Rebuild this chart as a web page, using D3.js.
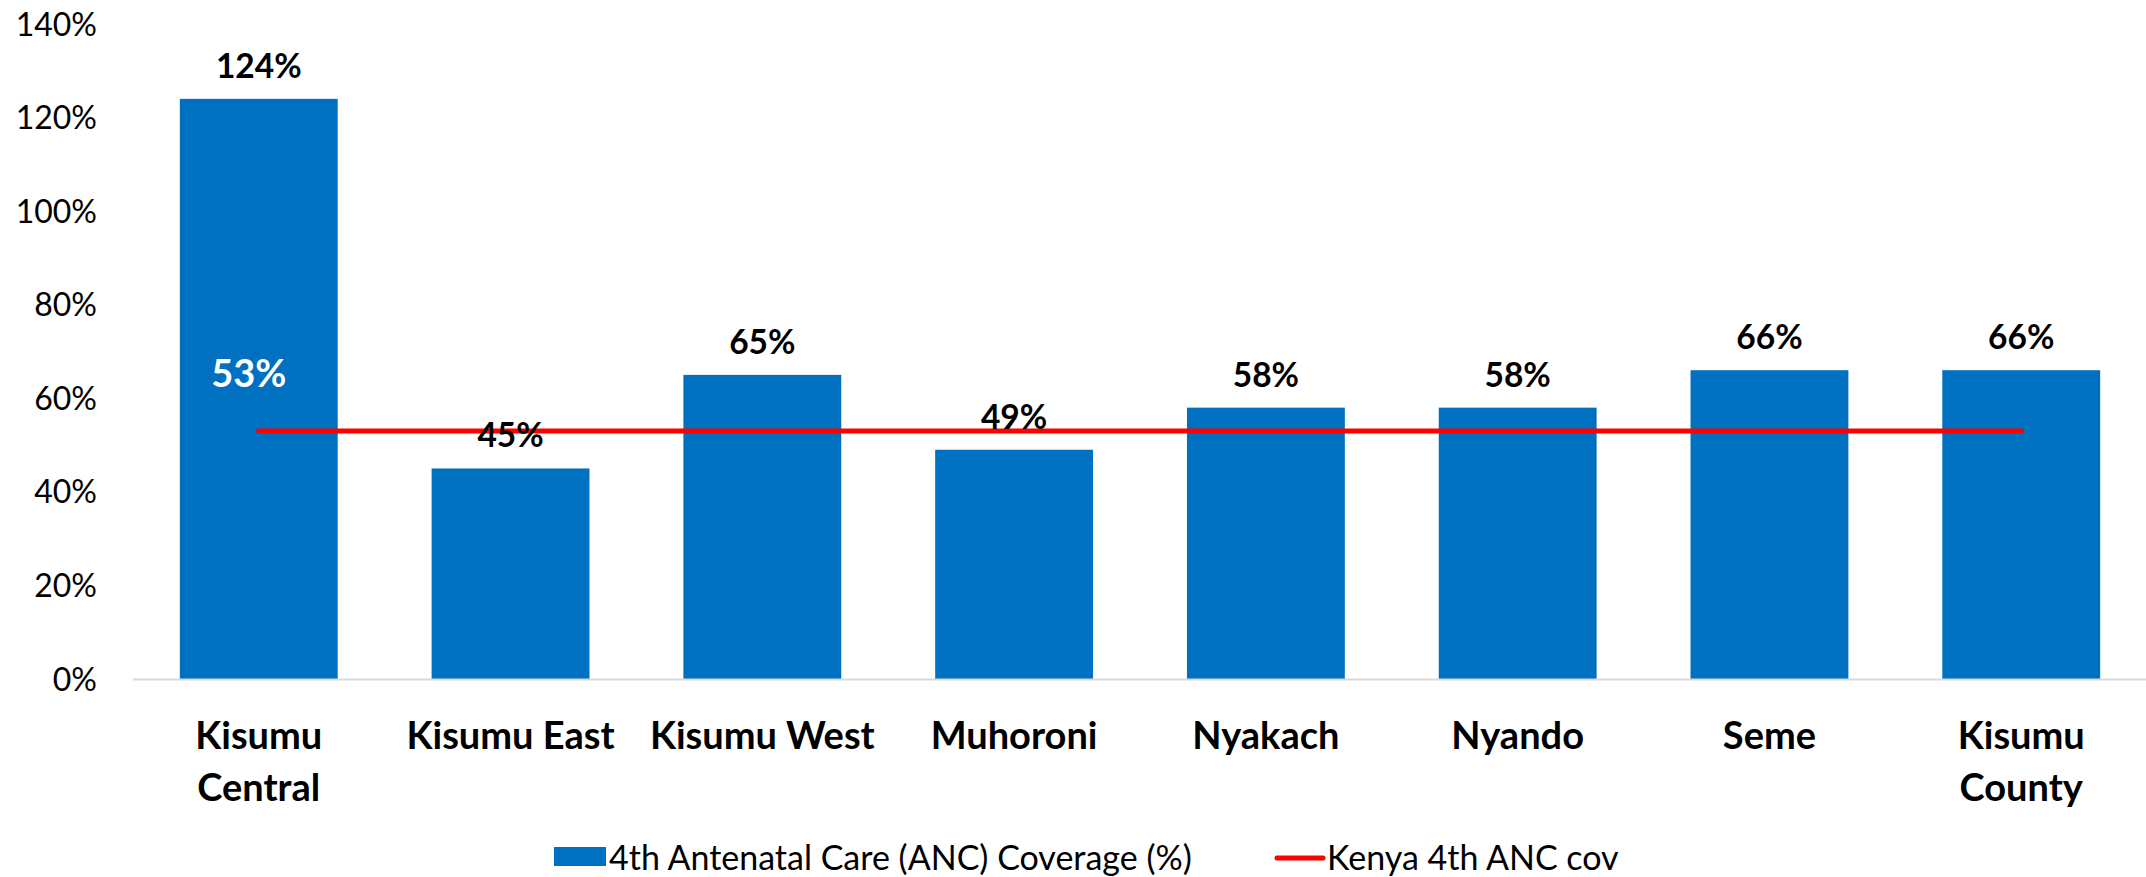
<!DOCTYPE html>
<html><head><meta charset="utf-8">
<script src="https://cdn.jsdelivr.net/npm/d3@7"></script>
<style>body{margin:0;background:#fff}svg{display:block}text{font-family:Lato,"Noto Sans",sans-serif}</style>
</head><body>
<script>
const categories = [["Kisumu","Central"],["Kisumu East"],["Kisumu West"],["Muhoroni"],["Nyakach"],["Nyando"],["Seme"],["Kisumu","County"]];
const ancCoverage = [124,45,65,49,58,58,66,66];
const kenyaAnc = [53,53,53,53,53,53,53,53];
const yTicks = [0,20,40,60,80,100,120,140];
const legendLabels = ["4th Antenatal Care (ANC) Coverage (%)","Kenya 4th ANC cov"];

const W=2146,H=877;
const svg=d3.select("body").append("svg").attr("width",W).attr("height",H);
const x=d3.scaleBand().domain(d3.range(categories.length)).range([133,2147]).paddingInner(0.373).paddingOuter(0.186);
const y=d3.scaleLinear().domain([0,140]).range([679,24]);

// y tick labels
svg.append("g").selectAll("text").data(yTicks).join("text")
  .attr("x",97).attr("y",d=>y(d)).attr("dy","0.36em").attr("text-anchor","end")
  .attr("font-size",32).attr("fill","#000").text(d=>d+"%");

// bars
svg.append("g").selectAll("rect").data(ancCoverage).join("rect")
  .attr("x",(d,i)=>x(i)).attr("width",x.bandwidth())
  .attr("y",d=>y(d)).attr("height",d=>y(0)-y(d)).attr("fill","#0070C0");

// baseline
svg.append("line").attr("x1",133).attr("x2",2146).attr("y1",y(0)+0.5).attr("y2",y(0)+0.5)
  .attr("stroke","#D9D9D9").attr("stroke-width",2);

// red line
const line=d3.line().x((d,i)=>x(i)+x.bandwidth()/2).y(d=>y(d));
svg.append("path").datum(kenyaAnc).attr("d",line).attr("fill","none")
  .attr("stroke","#FF0000").attr("stroke-width",5).attr("stroke-linecap","round");

// bar labels
svg.append("g").selectAll("text").data(ancCoverage).join("text")
  .attr("x",(d,i)=>x(i)+x.bandwidth()/2).attr("y",d=>y(d)-21).attr("text-anchor","middle")
  .attr("font-size",33.5).attr("font-weight","bold").attr("fill","#000").text(d=>d+"%");

// line label (first point)
svg.append("text").attr("x",x(0)+x.bandwidth()/2-10).attr("y",y(kenyaAnc[0])-44)
  .attr("text-anchor","middle").attr("font-size",38).attr("font-weight","bold").attr("fill","#fff")
  .text(kenyaAnc[0]+"%");

// x labels
const xl=svg.append("g").selectAll("text").data(categories).join("text")
  .attr("x",(d,i)=>x(i)+x.bandwidth()/2).attr("y",749).attr("text-anchor","middle")
  .attr("font-size",38).attr("font-weight","bold").attr("fill","#000");
xl.selectAll("tspan").data(d=>d).join("tspan")
  .attr("x",function(){return d3.select(this.parentNode).attr("x");})
  .attr("dy",(d,i)=>i?52:0).text(d=>d);

// legend
svg.append("rect").attr("x",554).attr("y",847).attr("width",52).attr("height",19).attr("fill","#0070C0");
svg.append("text").attr("x",609).attr("y",870).attr("font-size",34).attr("fill","#000").text(legendLabels[0]);
svg.append("line").attr("x1",1277).attr("x2",1323).attr("y1",858).attr("y2",858)
  .attr("stroke","#FF0000").attr("stroke-width",5).attr("stroke-linecap","round");
svg.append("text").attr("x",1327).attr("y",870).attr("font-size",34).attr("fill","#000").text(legendLabels[1]);
</script>
</body></html>
